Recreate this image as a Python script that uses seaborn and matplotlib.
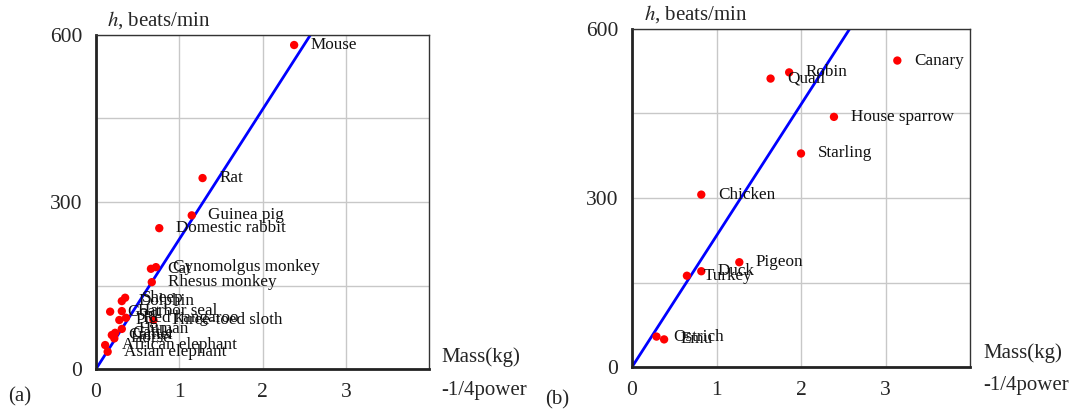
import matplotlib
matplotlib.use("Agg")
import matplotlib.pyplot as plt
import seaborn as sns
import pandas as pd

# ---- data ----
mammals = ["Mouse", "Rat", "Guinea pig", "Domestic rabbit", "Cat", "Cynomolgus monkey",
           "Rhesus monkey", "Sheep", "Dolphin", "Goat", "Harbor seal", "Pig", "Red kangaroo",
           "Three-toed sloth", "Human", "Cattle", "Camel", "Horse",
           "African elephant", "Asian elephant"]
mammal_x = [2.38, 1.28, 1.15, 0.76, 0.66, 0.72, 0.67, 0.35, 0.31, 0.17, 0.31, 0.28, 0.36,
            0.69, 0.31, 0.23, 0.19, 0.22, 0.11, 0.14]
mammal_h = [582, 343, 276, 253, 180, 183, 156, 128, 122, 103, 104, 88, 92,
            88, 72, 65, 61, 55, 43, 31]

birds = ["Canary", "Robin", "Quail", "House sparrow", "Starling", "Chicken",
         "Pigeon", "Duck", "Turkey", "Ostrich", "Emu"]
bird_x = [3.14, 1.86, 1.64, 2.39, 2.00, 0.82, 1.27, 0.82, 0.65, 0.29, 0.38]
bird_h = [544, 523, 512, 444, 379, 306, 186, 170, 162, 54, 49]

slope_a = 233
slope_b = 233

x_ticks = [0, 1, 2, 3]
y_ticks = [0, 300, 600]

sns.set_theme(style="white")
plt.rcParams["font.family"] = ["Liberation Serif", "DejaVu Serif"]
plt.rcParams["mathtext.fontset"] = "stix"

fig = plt.figure(figsize=(10.79, 4.11), dpi=100)
ax_a = fig.add_axes([96/1079, 1-369/411, (429-96)/1079, (369-35)/411])
ax_b = fig.add_axes([632/1079, 1-367/411, (970-632)/1079, (367-29)/411])


def style(ax):
    ax.set_xlim(0, 4)
    ax.set_ylim(0, 600)
    ax.set_xticks(x_ticks)
    ax.set_yticks(y_ticks)
    ax.set_xticks([1, 2, 3], minor=True)
    ax.set_yticks([150, 450], minor=True)
    ax.grid(True, which="both", color="#c8c8c8", linewidth=1.0)
    ax.set_axisbelow(True)
    ax.tick_params(axis="y", which="major", labelsize=15.5, length=0, pad=10)
    ax.tick_params(axis="x", which="major", labelsize=15.5, length=0, pad=10)
    ax.tick_params(axis="both", which="minor", length=0)
    for s in ["left", "bottom"]:
        ax.spines[s].set_color("#222222")
        ax.spines[s].set_linewidth(2.0)
    for s in ["top", "right"]:
        ax.spines[s].set_color("#333333")
        ax.spines[s].set_linewidth(1.0)
    ax.set_xlabel("")
    ax.set_ylabel("")


def panel(ax, names, xs, hs, slope):
    df = pd.DataFrame({"x": xs, "h": hs, "name": names})
    ax.axline((0, 0), slope=slope, color="#0000ff", linewidth=2.0, zorder=2)
    sns.scatterplot(data=df, x="x", y="h", ax=ax, color="#ff0000", s=36,
                    edgecolor="none", zorder=3)
    for n, x, h in zip(names, xs, hs):
        ax.annotate(n, (x, h), xytext=(12, 0), textcoords="offset points",
                    va="center", ha="left", fontsize=12.3, color="#111111")
    style(ax)


panel(ax_a, mammals, mammal_x, mammal_h, slope_a)
panel(ax_b, birds, bird_x, bird_h, slope_b)

# titles / axis texts
fs = 15
fig.text(107/1079, 1-20/411, r"$h$, beats/min", fontsize=fs, va="center", ha="left")
fig.text(644/1079, 1-14/411, r"$h$, beats/min", fontsize=fs, va="center", ha="left")
fig.text(441/1079, 1-357/411, "Mass(kg)", fontsize=fs, va="center", ha="left")
fig.text(441/1079, 1-390/411, "-1/4power", fontsize=fs, va="center", ha="left")
fig.text(983/1079, 1-353/411, "Mass(kg)", fontsize=fs, va="center", ha="left")
fig.text(983/1079, 1-385/411, "-1/4power", fontsize=fs, va="center", ha="left")
fig.text(8/1079, 1-397/411, "(a)", fontsize=fs, va="center", ha="left")
fig.text(545/1079, 1-400/411, "(b)", fontsize=fs, va="center", ha="left")

fig.savefig("out.png", dpi=100)
